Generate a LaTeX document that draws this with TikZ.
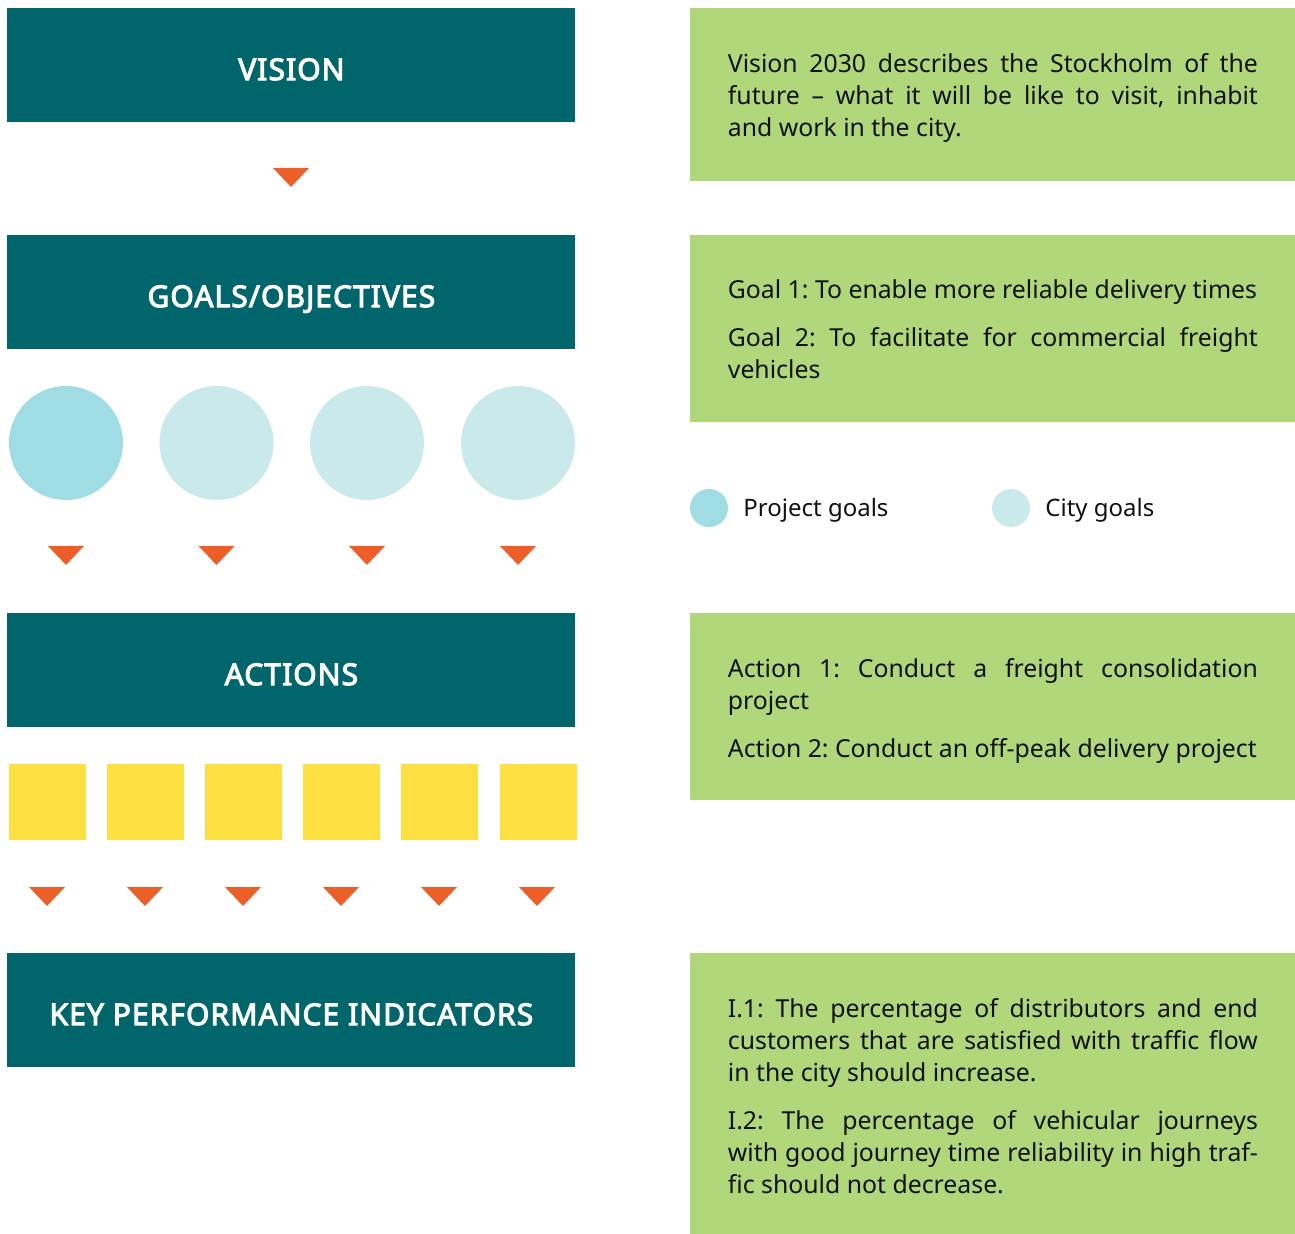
\documentclass[tikz,border=0pt]{standalone}
\usepackage{fontspec}
\setmainfont{Noto Sans}
\newfontfamily\headfont{Noto Sans}[FakeBold=3.5, LetterSpace=3.5]
\frenchspacing
\usetikzlibrary{positioning}

\definecolor{headteal}{HTML}{00666B}
\definecolor{notegreen}{HTML}{B0D77A}
\definecolor{projblue}{HTML}{A0DCE4}
\definecolor{cityblue}{HTML}{C9E9EA}
\definecolor{actyellow}{HTML}{FFE042}
\definecolor{arroworange}{HTML}{EC5F29}
\definecolor{inktext}{HTML}{111111}

\begin{document}
\begin{tikzpicture}[x=0.5pt, y=-0.5pt,
  head/.style={fill=headteal, text=white, anchor=north west, inner sep=0pt,
    minimum width=284pt, minimum height=57pt, text height=14.7pt, text depth=0pt,
    font=\headfont\fontsize{15}{18}\selectfont},
  notebox/.style={fill=notegreen, anchor=north west, inner sep=0pt,
    minimum width=302.5pt},
  note/.style={text=inktext, align=justify, text width=265pt, inner sep=0pt,
    font=\fontsize{12.4}{16}\selectfont},
  legend/.style={text=inktext, anchor=base west, inner sep=0pt,
    font=\fontsize{12}{16}\selectfont}]
  \useasboundingbox (0,0) rectangle (1295,1234);

  % left column: the four levels
  \node [head] (vision) at (7,8) {VISION};
  \node [head] (goals) at (7,235) {GOALS/OBJECTIVES};
  \node [head] (actions) at (7,613) {ACTIONS};
  \node [head] (kpi) at (7,953) {KEY PERFORMANCE INDICATORS};

  % goal circles
  \fill [projblue] (66,443) circle [radius=28.5pt];
  \fill [cityblue] (216.5,443) circle [radius=28.5pt];
  \fill [cityblue] (367,443) circle [radius=28.5pt];
  \fill [cityblue] (518,443) circle [radius=28.5pt];

  % action squares
  \fill [actyellow] (8.5,764) rectangle (85.5,840);
  \fill [actyellow] (106.7,764) rectangle (183.7,840);
  \fill [actyellow] (204.9,764) rectangle (281.9,840);
  \fill [actyellow] (303.1,764) rectangle (380.1,840);
  \fill [actyellow] (401.3,764) rectangle (478.3,840);
  \fill [actyellow] (499.5,764) rectangle (576.5,840);

  % orange markers
  \fill [arroworange] (273,168) -- (309,168) -- (291,187) -- cycle;
  \fill [arroworange] (48,546) -- (84,546) -- (66,565) -- cycle;
  \fill [arroworange] (198.5,546) -- (234.5,546) -- (216.5,565) -- cycle;
  \fill [arroworange] (349,546) -- (385,546) -- (367,565) -- cycle;
  \fill [arroworange] (500,546) -- (536,546) -- (518,565) -- cycle;
  \fill [arroworange] (29,887) -- (65,887) -- (47,906) -- cycle;
  \fill [arroworange] (127,887) -- (163,887) -- (145,906) -- cycle;
  \fill [arroworange] (225,887) -- (261,887) -- (243,906) -- cycle;
  \fill [arroworange] (323,887) -- (359,887) -- (341,906) -- cycle;
  \fill [arroworange] (421,887) -- (457,887) -- (439,906) -- cycle;
  \fill [arroworange] (519,887) -- (555,887) -- (537,906) -- cycle;

  % right column: descriptions
  \node [notebox, minimum height=86.5pt] (visionbox) at (690,8) {};
  \node [note, yshift=-1.5pt] (visiontext) at (visionbox.center)
    {Vision 2030 describes the Stockholm of the\linebreak
     future – what it will be like to visit, inhabit\linebreak
     and work in the city.};
  \node [notebox, minimum height=93.5pt] (goalsbox) at (690,235) {};
  \node [note] (goalstext) at (goalsbox.center)
    {Goal 1: To enable more reliable delivery times\par\vspace{8pt}
     Goal 2: To facilitate for commercial freight\linebreak
     vehicles};
  \node [notebox, minimum height=93.5pt] (actionsbox) at (690,613) {};
  \node [note, yshift=-2pt] (actionstext) at (actionsbox.center)
    {Action 1: Conduct a freight consolidation\linebreak
     project\par\vspace{8pt}
     Action 2: Conduct an off-peak delivery project};
  \node [notebox, minimum height=140.5pt] (kpibox) at (690,953) {};
  \node [note, yshift=-1pt] (kpitext) at (kpibox.center)
    {I.1: The percentage of distributors and end\linebreak
     customers that are satisfied with traffic flow\linebreak
     in the city should increase.\par\vspace{8pt}
     I.2: The percentage of vehicular journeys\linebreak
     with good journey time reliability in high traf-\linebreak
     fic should not decrease.};

  % legend
  \fill [projblue] (709,508) circle [radius=9.5pt];
  \node [legend] (projlabel) at (743,517) {Project goals};
  \fill [cityblue] (1011,508) circle [radius=9.5pt];
  \node [legend] (citylabel) at (1045,517) {City goals};
\end{tikzpicture}
\end{document}
